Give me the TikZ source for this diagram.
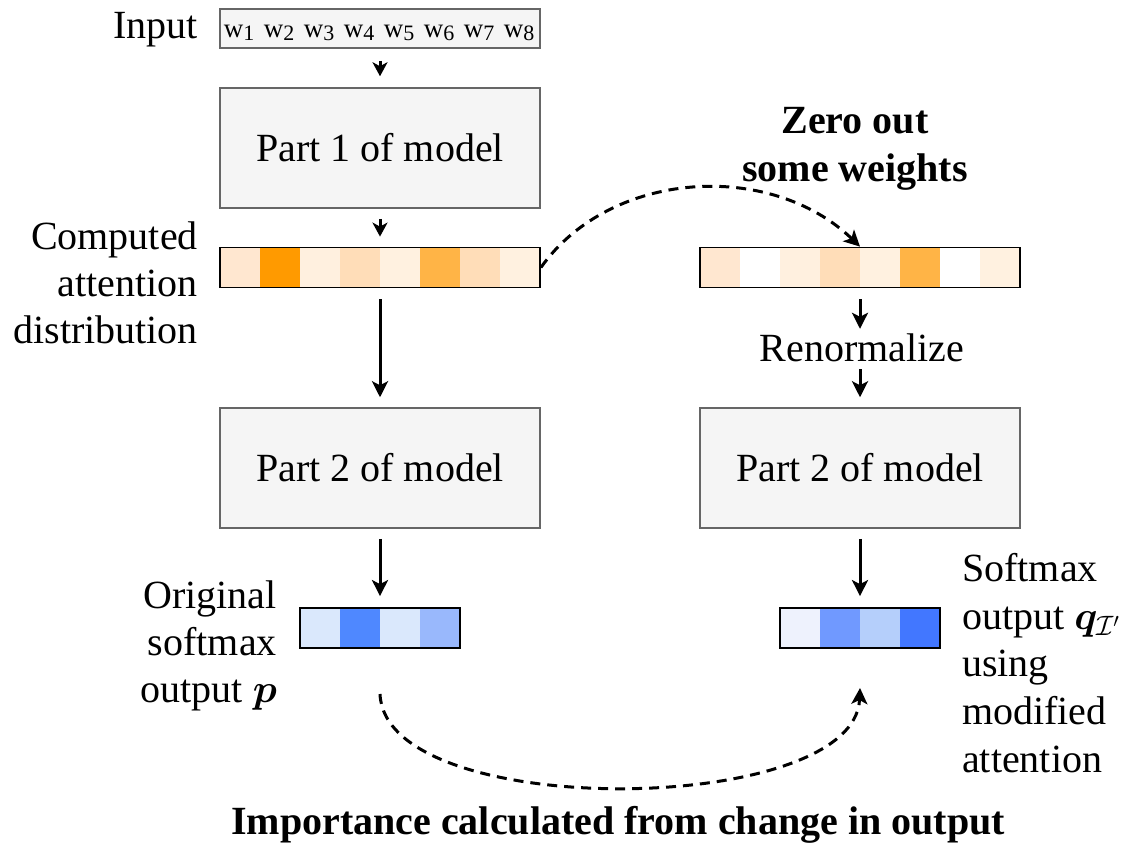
\RequirePackage{fix-cm}
\documentclass[tikz,border=0pt]{standalone}
\usepackage{amsmath,bm}
\usepackage{fontspec}
\setmainfont{Liberation Serif}
\usetikzlibrary{arrows.meta}
\definecolor{boxfill}{HTML}{F5F5F5}
\definecolor{boxline}{HTML}{666666}
\definecolor{oA}{HTML}{FFE7D0}
\definecolor{oB}{HTML}{FF9A00}
\definecolor{oC}{HTML}{FFF0DF}
\definecolor{oD}{HTML}{FFDDB8}
\definecolor{oE}{HTML}{FFF1E0}
\definecolor{oF}{HTML}{FFB446}
\definecolor{bA}{HTML}{DAE8FC}
\definecolor{bB}{HTML}{4F88FF}
\definecolor{bC}{HTML}{99B8FC}
\definecolor{bD}{HTML}{EEF2FD}
\definecolor{bE}{HTML}{7099FF}
\definecolor{bF}{HTML}{B5CFFB}
\definecolor{bG}{HTML}{4277FF}
\begin{document}
\begin{tikzpicture}[x=1pt,y=-1pt,
  font=\fontsize{40}{47}\selectfont,
  modelbox/.style={draw=boxline, fill=boxfill, line width=1.5pt, minimum width=320pt, minimum height=120pt, inner sep=0pt},
  cell/.style={draw=none, minimum width=40pt, minimum height=40pt, inner sep=0pt},
  barline/.style={draw=black, line width=1.8pt, minimum height=40pt, inner sep=0pt},
  lbl/.style={inner sep=0pt},
  wlbl/.style={inner sep=0pt, anchor=base},
  arr/.style={-{Stealth[length=16pt,width=16pt,inset=4pt]}, line width=3pt},
  sarr/.style={-{Stealth[length=14pt,width=15pt,inset=4pt]}, line width=3pt},
  darr/.style={-{Stealth[length=16pt,width=16pt,inset=4pt]}, line width=3pt, dash pattern=on 10pt off 7pt}
]
\useasboundingbox (0,0) rectangle (1131,844);

% Input
\node[lbl, anchor=east] (inlbl) at (198,30) {Input};
\node[modelbox, minimum height=39pt] (inbox) at (380,28.5) {};
\foreach \i in {1,...,8}
  \node[wlbl] (w\i) at (199+40*\i,37) {\fontsize{27}{27}\selectfont w\raisebox{-3.5pt}{\fontsize{22}{22}\selectfont\i}};

% Part 1
\node[modelbox] (p1) at (380,148) {Part 1 of model};

% Attention bar (left)
\foreach \c [count=\i] in {oA,oB,oC,oD,oE,oF,oD,oE}
  \node[cell, fill=\c] (a\i) at (200+40*\i,267.5) {};
\node[barline, minimum width=320pt] (attn) at (380,267.5) {};
\node[lbl, anchor=east, align=right] (attnlbl) at (198,283) {Computed\\attention\\distribution};

% Part 2 left
\node[modelbox] (p2l) at (380,468) {Part 2 of model};

% Blue bar left
\foreach \c [count=\i] in {bA,bB,bA,bC}
  \node[cell, fill=\c] (bl\i) at (280+40*\i,628) {};
\node[barline, minimum width=160pt] (bluel) at (380,628) {};
\node[lbl, anchor=east, align=right] (origlbl) at (277,646) {Original\\softmax\\output $\boldsymbol{p}$};

% Right column
\node[lbl, align=center, font=\fontsize{40}{48}\selectfont\bfseries] (zero) at (855,149) {Zero out\\some weights};
\foreach \c [count=\i] in {oA,white,oC,oD,oE,oF,white,oE}
  \node[cell, fill=\c] (r\i) at (680+40*\i,267.5) {};
\node[barline, minimum width=320pt] (attnr) at (860,267.5) {};
\node[lbl, text height=28pt, text depth=0pt] (renorm) at (862,347) {Renormalize};
\node[modelbox] (p2r) at (860,468) {Part 2 of model};
\foreach \c [count=\i] in {bD,bE,bF,bG}
  \node[cell, fill=\c] (br\i) at (760+40*\i,628) {};
\node[barline, minimum width=160pt] (bluer) at (860,628) {};
\node[lbl, anchor=west, align=left, font=\fontsize{40}{47.6}\selectfont] (softlbl) at (962,663) {Softmax\\output $\boldsymbol{q}_{\mathcal{I}'}$\\using\\modified\\attention};

\node[lbl, font=\fontsize{40}{47}\selectfont\bfseries] (imp) at (618,825) {Importance calculated from change in output};

% Arrows
\draw[sarr, shorten <=12pt, shorten >=11pt] (inbox) -- (p1);
\draw[sarr, shorten <=10pt, shorten >=10pt] (p1) -- (attn);
\draw[arr, shorten <=11pt, shorten >=10pt] (attn) -- (p2l);
\draw[arr, shorten <=10pt, shorten >=11pt] (p2l) -- (bluel);
\draw[arr, shorten <=11pt, shorten >=4pt] (attnr.south) -- (renorm.north -| attnr.south);
\draw[arr, shorten <=8pt, shorten >=10pt] (renorm.south -| p2r.north) -- (p2r.north);
\draw[arr, shorten <=10pt, shorten >=11pt] (p2r) -- (bluer);

% Dashed curves
\draw[darr] (attn.east) .. controls (610,170) and (770,160) .. (attnr.north);
\coordinate (ds) at (380,694);
\coordinate (de) at (860,688);
\draw[darr] (ds) .. controls (385,822) and (855,817) .. (de);
\end{tikzpicture}
\end{document}
